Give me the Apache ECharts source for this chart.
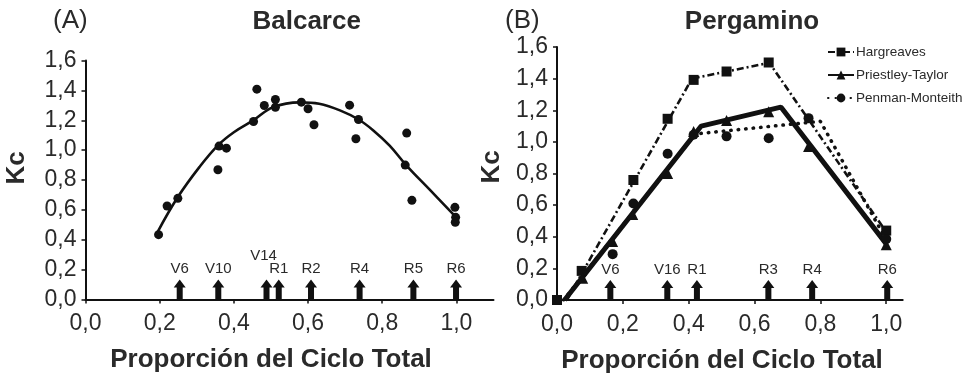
<!DOCTYPE html>
<html>
<head>
<meta charset="utf-8">
<script src="https://cdn.jsdelivr.net/npm/echarts@6/dist/echarts.min.js"></script>
<style>html,body{margin:0;padding:0;background:#fff}#c{width:968px;height:377px}</style>
</head>
<body>
<div id="c"></div>
<script>
// ---------- Data ----------
// Panel A: Balcarce observed Kc
const balcarceX = [0.197,0.220,0.249,0.357,0.360,0.380,0.453,0.462,0.482,0.512,0.512,0.582,0.600,0.616,0.712,0.736,0.729,0.866,0.862,0.880,0.996,0.998,0.997];
const balcarceY = [0.434,0.626,0.677,0.869,1.027,1.013,1.192,1.408,1.299,1.339,1.287,1.321,1.277,1.170,1.301,1.205,1.076,1.114,0.900,0.664,0.617,0.550,0.517];
// Panel A: fitted curve
const balcarceFitX = [0.195,0.249,0.307,0.357,0.400,0.452,0.506,0.578,0.630,0.686,0.736,0.776,0.820,0.865,0.928,0.995];
const balcarceFitY = [0.455,0.686,0.886,1.032,1.120,1.199,1.288,1.320,1.310,1.266,1.205,1.132,1.030,0.898,0.735,0.562];
// Panel A: phenological stages
const stagesAX = [0.254,0.358,0.488,0.521,0.608,0.739,0.884,0.999];
const stagesALabels = ['V6','V10','V14','R1','R2','R4','R5','R6'];

// Panel B: Pergamino
const hargX = [0.000,0.075,0.232,0.336,0.415,0.515,0.643,1.000];
const hargY = [0.000,0.184,0.759,1.146,1.392,1.445,1.502,0.439];
const hargFitX = [0.030,0.410,0.645,1.000];
const hargFitY = [0.000,1.400,1.500,0.430];

const ptX = [0.078,0.169,0.230,0.336,0.415,0.515,0.643,0.764,1.000];
const ptY = [0.137,0.370,0.540,0.800,1.065,1.135,1.190,0.970,0.350];
const ptFitX = [0.023,0.438,0.680,1.000];
const ptFitY = [0.000,1.100,1.220,0.355];

const pmX = [0.169,0.232,0.336,0.415,0.515,0.643,0.764,1.000];
const pmY = [0.290,0.610,0.925,1.045,1.035,1.023,1.150,0.385];
const pmFitX = [0.020,0.420,0.800,1.000];
const pmFitY = [0.000,1.050,1.130,0.380];

const stagesBX = [0.162,0.335,0.425,0.642,0.775,1.003];
const stagesBLabels = ['V6','V16','R1','R3','R4','R6'];

const seriesNames = ['Hargreaves','Priestley-Taylor','Penman-Monteith'];
const panelTitles = ['Balcarce','Pergamino'];
const panelTags = ['(A)','(B)'];
const xAxisTitle = 'Proporción del Ciclo Total';
const yAxisTitle = 'Kc';

// ---------- Build ----------
const zip = (xs, ys) => xs.map((x, i) => [x, ys[i]]);
const fmt = v => v.toFixed(1).replace('.', ',');
const INK = '#111';
const TXT = '#2a2a2a';
const FONT = '"Liberation Sans", Arial, sans-serif';
const ARROW = 'path://M3,20 L3,8 L0,8 L6,0 L12,8 L9,8 L9,20 Z';

function xAxis(gi, max) {
  return {
    type: 'value', gridIndex: gi, min: 0, max: max, interval: 0.2,
    axisLine: { show: true, onZero: false, lineStyle: { color: INK, width: 2 } },
    axisTick: { show: true, length: 4, lineStyle: { color: INK, width: 1.5 } },
    axisLabel: { formatter: fmt, showMaxLabel: false, fontSize: 23, color: TXT, fontFamily: FONT, margin: 13 },
    splitLine: { show: false }
  };
}
function yAxis(gi) {
  return {
    type: 'value', gridIndex: gi, min: 0, max: 1.6, interval: 0.2,
    axisLine: { show: true, onZero: false, lineStyle: { color: INK, width: 2 } },
    axisTick: { show: true, length: 4, lineStyle: { color: INK, width: 1.5 } },
    axisLabel: { formatter: fmt, fontSize: 23, color: TXT, fontFamily: FONT, margin: 9 },
    splitLine: { show: false }
  };
}
function stageSeries(gi, xs, labels) {
  return {
    type: 'scatter', xAxisIndex: gi, yAxisIndex: gi, silent: true, z: 3,
    symbol: ARROW, symbolSize: [12, 20], symbolOffset: [0, '-50%'],
    itemStyle: { color: INK, opacity: 1 },
    data: xs.map((x, i) => {
      const item = { value: [x, 0], name: labels[i] };
      if (labels[i] === 'V14') item.label = { offset: [-3, -13] };
      return item;
    }),
    label: { show: true, position: 'top', distance: 3, formatter: p => p.name,
             fontSize: 15, color: TXT, fontFamily: FONT }
  };
}

const option = {
  animation: false,
  backgroundColor: '#fff',
  grid: [
    { left: 85.5, top: 60.5, width: 408, height: 239, outerBoundsMode: 'none' },
    { left: 557, top: 47, width: 345.7, height: 253, outerBoundsMode: 'none' }
  ],
  xAxis: [xAxis(0, 1.1), xAxis(1, 1.05)],
  yAxis: [yAxis(0), yAxis(1)],
  legend: {
    orient: 'vertical', left: 822, top: 40, itemWidth: 26, itemHeight: 11, itemGap: 9,
    data: seriesNames,
    textStyle: { fontSize: 13.5, color: TXT, fontFamily: FONT, padding: [0, 0, 0, -3] }
  },
  graphic: [
    { type: 'text', left: 53, top: 8, style: { text: panelTags[0], font: '26px ' + FONT, fill: TXT } },
    { type: 'text', x: 306.7, y: 22, style: { text: panelTitles[0], font: 'bold 26px ' + FONT, fill: TXT, align: 'center', verticalAlign: 'middle' } },
    { type: 'text', left: 505, top: 8, style: { text: panelTags[1], font: '26px ' + FONT, fill: TXT } },
    { type: 'text', x: 752, y: 22, style: { text: panelTitles[1], font: 'bold 26px ' + FONT, fill: TXT, align: 'center', verticalAlign: 'middle' } },
    { type: 'text', x: 17, y: 168, rotation: Math.PI / 2, style: { text: yAxisTitle, font: 'bold 26px ' + FONT, fill: TXT, align: 'center', verticalAlign: 'middle' } },
    { type: 'text', x: 491.5, y: 167, rotation: Math.PI / 2, style: { text: yAxisTitle, font: 'bold 26px ' + FONT, fill: TXT, align: 'center', verticalAlign: 'middle' } },
    { type: 'text', x: 271, y: 360, style: { text: xAxisTitle, font: 'bold 26px ' + FONT, fill: TXT, align: 'center', verticalAlign: 'middle' } },
    { type: 'text', x: 722, y: 361, style: { text: xAxisTitle, font: 'bold 26px ' + FONT, fill: TXT, align: 'center', verticalAlign: 'middle' } }
  ],
  series: [
    // Panel A
    { type: 'line', xAxisIndex: 0, yAxisIndex: 0, smooth: 0.4, showSymbol: false, silent: true,
      lineStyle: { color: INK, width: 2.6 }, data: zip(balcarceFitX, balcarceFitY), z: 2 },
    { type: 'scatter', xAxisIndex: 0, yAxisIndex: 0, symbol: 'circle', symbolSize: 9,
      itemStyle: { color: INK, opacity: 1 }, data: zip(balcarceX, balcarceY), z: 4 },
    stageSeries(0, stagesAX, stagesALabels),
    // Panel B fits
    { name: seriesNames[0], type: 'line', xAxisIndex: 1, yAxisIndex: 1, showSymbol: false, symbol: 'rect',
      itemStyle: { color: INK, opacity: 1 }, lineStyle: { color: INK, width: 2.6, type: [7, 3, 2, 3] },
      data: zip(hargFitX, hargFitY), z: 2 },
    { name: seriesNames[1], type: 'line', xAxisIndex: 1, yAxisIndex: 1, showSymbol: false, symbol: 'triangle',
      itemStyle: { color: INK, opacity: 1 }, lineStyle: { color: INK, width: 5 },
      data: zip(ptFitX, ptFitY), z: 2 },
    { name: seriesNames[2], type: 'line', xAxisIndex: 1, yAxisIndex: 1, showSymbol: false, symbol: 'circle',
      itemStyle: { color: INK, opacity: 1 }, lineStyle: { color: INK, width: 3.5, type: [0.5, 7], cap: 'round' },
      data: zip(pmFitX, pmFitY), z: 2 },
    // Panel B points
    { name: seriesNames[0], type: 'scatter', xAxisIndex: 1, yAxisIndex: 1, symbol: 'rect', symbolSize: 10,
      itemStyle: { color: INK, opacity: 1 }, data: zip(hargX, hargY), z: 4 },
    { name: seriesNames[1], type: 'scatter', xAxisIndex: 1, yAxisIndex: 1, symbol: 'triangle', symbolSize: 11,
      itemStyle: { color: INK, opacity: 1 }, data: zip(ptX, ptY), z: 4 },
    { name: seriesNames[2], type: 'scatter', xAxisIndex: 1, yAxisIndex: 1, symbol: 'circle', symbolSize: 10,
      itemStyle: { color: INK, opacity: 1 }, data: zip(pmX, pmY), z: 4 },
    stageSeries(1, stagesBX, stagesBLabels)
  ]
};

const chart = echarts.init(document.getElementById('c'), null, { renderer: 'canvas' });
chart.setOption(option);
</script>
</body>
</html>
